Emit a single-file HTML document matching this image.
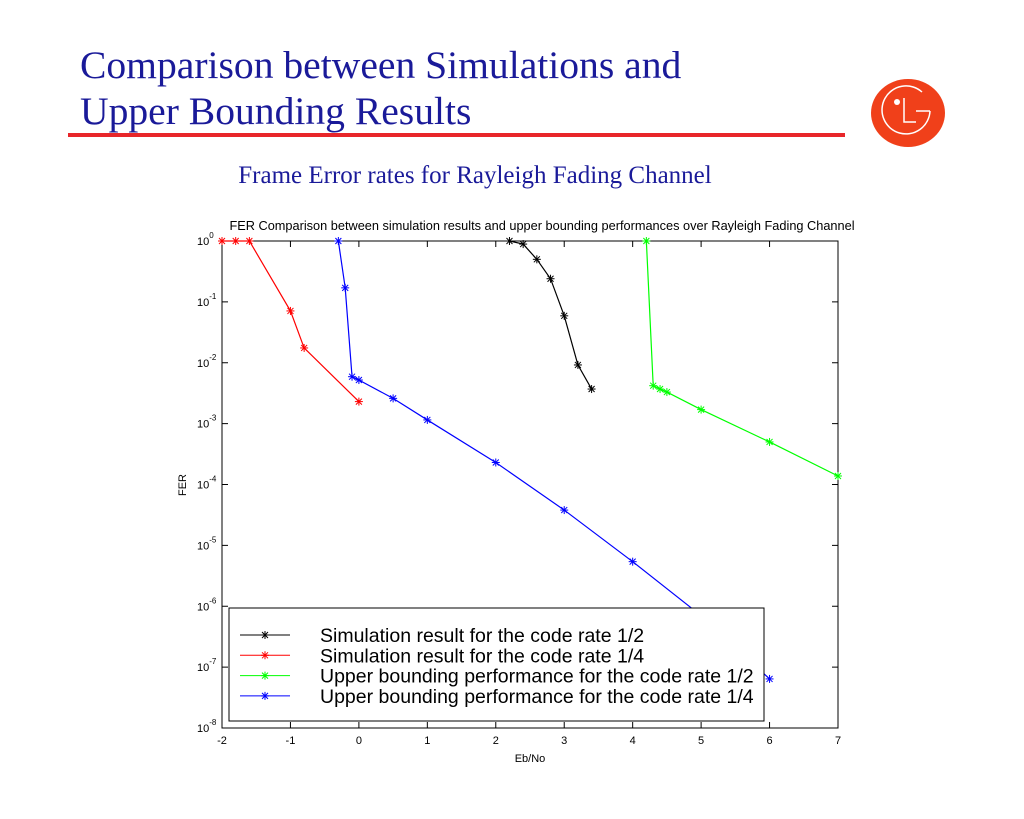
<!DOCTYPE html>
<html><head><meta charset="utf-8"><style>
body{margin:0;width:1024px;height:819px;background:#fff;overflow:hidden;position:relative;font-family:"Liberation Sans",sans-serif}
.h{position:absolute;left:80px;font-family:"Liberation Serif",serif;font-size:39.6px;color:#1a1a99;line-height:46px}
</style></head><body>
<div class="h" style="top:42px">Comparison between Simulations and<br>Upper Bounding Results</div>
<div style="position:absolute;left:68px;top:133px;width:777px;height:4px;background:#e8262a"></div>
<svg style="position:absolute;left:870px;top:78px" width="76" height="70" viewBox="0 0 76 70">
<ellipse cx="38" cy="35" rx="37" ry="34" fill="#f0401a"/>
<path d="M60 33 A24 24 0 1 1 52 14" fill="none" stroke="#fff" stroke-width="1.5"/>
<circle cx="27" cy="24" r="3" fill="#fff"/>
<path d="M34 20 V44 H46" fill="none" stroke="#fff" stroke-width="1.5"/>
<path d="M60 33 H46" fill="none" stroke="#fff" stroke-width="1.5"/>
</svg>
<div style="position:absolute;left:0;width:950px;top:162px;text-align:center;font-family:'Liberation Serif',serif;font-size:25px;color:#1a1a99">Frame Error rates for Rayleigh Fading Channel</div>
<svg id="c" width="1024" height="819" style="position:absolute;left:0;top:0"></svg>
<script>
const xTicks=[-2,-1,0,1,2,3,4,5,6,7];
const yExps=[0,-1,-2,-3,-4,-5,-6,-7,-8];
const simHalfX=[2.2,2.4,2.6,2.8,3,3.2,3.4];
const simHalfY=[1,0.89,0.5,0.24,0.059,0.0092,0.0037];
const simQuarterX=[-2,-1.8,-1.6,-1,-0.8,0];
const simQuarterY=[1,1,1,0.071,0.0175,0.0023];
const ubHalfX=[4.2,4.3,4.4,4.5,5,6,7];
const ubHalfY=[1,0.0042,0.0037,0.0033,0.0017,0.0005,0.000138];
const ubQuarterX=[-0.3,-0.2,-0.1,0,0.5,1,2,3,4,5,6];
const ubQuarterY=[1,0.17,0.0059,0.0052,0.0026,0.00115,0.00023,0.000038,0.0000054,0.0000007,0.000000064];
const legendLabels=["Simulation result for the code rate 1/2","Simulation result for the code rate 1/4","Upper bounding performance for the code rate 1/2","Upper bounding performance for the code rate 1/4"];
const L=222,R=838,T=241,B=728;
const sx=v=>L+(v+2)*(R-L)/9, sy=v=>T-Math.log10(v)*(B-T)/8;
const svg=document.getElementById('c'),NS='http://www.w3.org/2000/svg';
function mk(t,a,p){const e=document.createElementNS(NS,t);for(const k in a)e.setAttribute(k,a[k]);(p||svg).appendChild(e);return e;}
let f=mk('rect',{x:L,y:T,width:R-L,height:B-T,fill:'none',stroke:'#000','stroke-width':1});


xTicks.forEach(v=>{const x=sx(v);
mk('line',{x1:x,x2:x,y1:B,y2:B-6,stroke:'#000'});mk('line',{x1:x,x2:x,y1:T,y2:T+6,stroke:'#000'});
const t=mk('text',{x:x,y:B+16,'text-anchor':'middle','font-size':11});t.textContent=v;

});
yExps.forEach(e=>{const y=sy(Math.pow(10,e));
mk('line',{x1:L,x2:L+6,y1:y,y2:y,stroke:'#000'});mk('line',{x1:R,x2:R-6,y1:y,y2:y,stroke:'#000'});
const t=mk('text',{x:197,y:y+4,'font-size':11});t.innerHTML='10<tspan dy="-7" font-size="8">'+e+'</tspan>';

});
let tt=mk('text',{x:542,y:230,'text-anchor':'middle','font-size':12.75});tt.textContent='FER Comparison between simulation results and upper bounding performances over Rayleigh Fading Channel';


let xl=mk('text',{x:530,y:762,'text-anchor':'middle','font-size':11});xl.textContent='Eb/No';


let yl=mk('text',{x:0,y:0,'text-anchor':'middle','font-size':11,transform:'translate(186,485) rotate(-90)'});yl.textContent='FER';


function star(x,y,c,g){[[-4,0,4,0],[0,-4,0,4],[-3,-3,3,3],[-3,3,3,-3]].forEach(d=>mk('line',{x1:x+d[0],y1:y+d[1],x2:x+d[2],y2:y+d[3],stroke:c},g));}
function series(xs,ys,c,n){const g=mk('g',{});


mk('polyline',{points:xs.map((v,i)=>sx(v)+','+sy(ys[i])).join(' '),fill:'none',stroke:c,'stroke-width':1.2},g);
xs.forEach((v,i)=>star(sx(v),sy(ys[i]),c,g));}
series(simHalfX,simHalfY,'#000','series-sim-rate-half');
series(simQuarterX,simQuarterY,'#f00','series-sim-rate-quarter');
series(ubHalfX,ubHalfY,'#0f0','series-ub-rate-half');
series(ubQuarterX,ubQuarterY,'#00f','series-ub-rate-quarter');
const lg=mk('g',{});


mk('rect',{x:229,y:608,width:535,height:113,fill:'#fff',stroke:'#000'},lg);
const cols=['#000','#f00','#0f0','#00f'];
legendLabels.forEach((s,i)=>{const y=635+i*20.3;
mk('line',{x1:240,x2:290,y1:y,y2:y,stroke:cols[i]},lg);star(265,y,cols[i],lg);
const t=mk('text',{x:320,y:y+7,'font-size':19.5},lg);t.textContent=s;

});
</script>
</body></html>
